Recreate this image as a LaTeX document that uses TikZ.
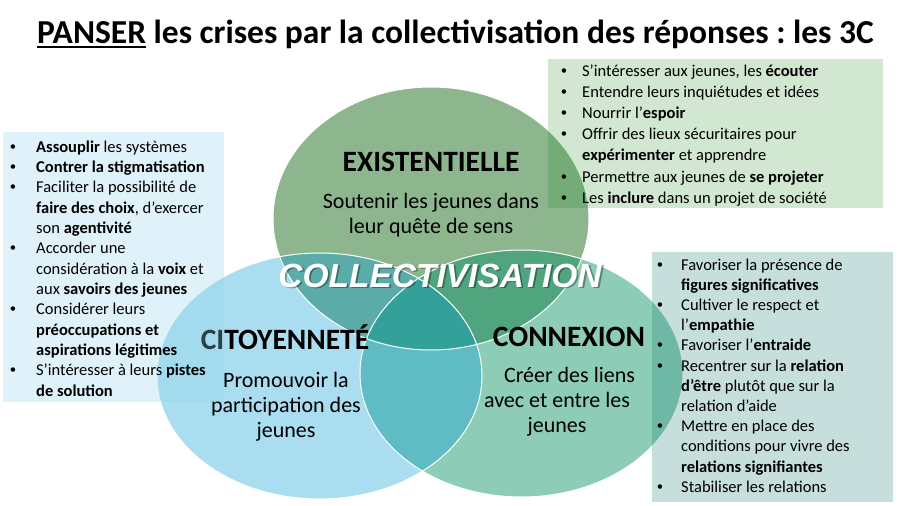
\documentclass[tikz,border=0pt]{standalone}
\usepackage{fontspec}
\setmainfont{Carlito}
\newfontfamily\arialfont{Liberation Sans}
\frenchspacing

\definecolor{existfill}{HTML}{8DB68F}
\definecolor{citofill}{HTML}{A9DDEF}
\definecolor{connexfill}{HTML}{8DCDB8}
\definecolor{exicito}{HTML}{5BABA9}
\definecolor{exiconnex}{HTML}{50A57F}
\definecolor{citoconnex}{HTML}{5FBBC4}
\definecolor{allthree}{HTML}{33A19A}
\definecolor{citobox}{RGB}{152,215,238}
\definecolor{existbox}{RGB}{5,127,11}
\definecolor{connexbox}{RGB}{0,110,100}

\def\existell{(431,218.5) ellipse [x radius=158pt, y radius=131.5pt]}
\def\citoell{(319.5,376) ellipse [x radius=162.5pt, y radius=123pt]}
\def\connexell{(521.5,373.5) ellipse [x radius=161.5pt, y radius=123.5pt]}

\def\citorect{(3,132) rectangle (224,402)}
\def\existrect{(548,59) rectangle (883,208)}
\def\connexrect{(652,252) rectangle (893,502)}

\newcommand{\bul}[1]{\makebox[#1][l]{\arialfont•}}
\newcommand{\cont}[1]{\hspace*{#1}}
\newcommand{\ulword}[1]{\vtop{\hbox{#1}\kern2.5pt\hrule height 2pt}}

\tikzset{
  listtext/.style={anchor=base west, align=left, inner sep=0pt},
  circtitle/.style={anchor=base, inner sep=0pt, font=\fontsize{29.5}{30}\selectfont\bfseries},
  circtext/.style={anchor=base, align=center, inner sep=0pt, font=\fontsize{22}{25}\selectfont}
}

\begin{document}
\begin{tikzpicture}[x=1pt, y=-1pt]
\useasboundingbox (0,0) rectangle (900,506);
\fill[white] (0,0) rectangle (900,506);

\node (title) [anchor=base, inner sep=0pt, font=\fontsize{33.5}{36}\selectfont\bfseries] at (455.5,43)
  {\ulword{PANSER} les crises par la collectivisation des réponses : les 3C};

\begin{scope}
  \fill[existfill] \existell;
  \fill[citofill] \citoell;
  \fill[connexfill] \connexell;

  \begin{scope} % Shade the overlaps with the top one
    \clip \existell;
    \fill[exicito] \citoell;
    \fill[exiconnex] \connexell;
  \end{scope}

  \begin{scope} % Shade the two lower ones
    \clip \citoell;
    \fill[citoconnex] \connexell;
  \end{scope}

  \begin{scope} % Shade the middle of all three
    \clip \existell;
    \clip \citoell;
    \fill[allthree] \connexell;
  \end{scope}

  \draw[white, line width=1pt] \existell;
  \draw[white, line width=1pt] \citoell;
  \draw[white, line width=1pt] \connexell;
\end{scope}

% text of a multi-line node sits on its last line
\node (exist-title) [circtitle] at (431,171) {EXISTENTIELLE};
\node (exist-text) [circtext] at (431,233) {Soutenir les jeunes dans\\leur quête de sens};
\node (cito-title) [circtitle] at (285,349) {CITOYENNETÉ};
\node (cito-text) [circtext] at (286,437) {Promouvoir la\\participation des\\jeunes};
\node (connex-title) [circtitle] at (569,346) {CONNEXION};
\node (connex-text) [circtext] at (557,432) {\hspace*{25pt}Créer des liens\\avec et entre les\\jeunes};

\node (collect-shadow) [anchor=base, inner sep=0pt, text=black, text opacity=0.35,
  font=\arialfont\bfseries\itshape\fontsize{33.5}{36}\selectfont] at (441.8,288.8) {COLLECTIVISATION};
\node (collect) [anchor=base, inner sep=0pt, text=white,
  font=\arialfont\bfseries\itshape\fontsize{33.5}{36}\selectfont] at (440,287) {COLLECTIVISATION};

% boxes
\fill[citobox, opacity=0.3] \citorect;
\fill[existbox, opacity=0.18] \existrect;
\fill[connexbox, opacity=0.22] \connexrect;

\node (cito-list) [listtext, font=\fontsize{16.5}{20.33}\selectfont] at (10,396) {%
\bul{26pt}\textbf{Assouplir} les systèmes\\
\bul{26pt}\textbf{Contrer la stigmatisation}\\
\bul{26pt}Faciliter la possibilité de\\
\cont{26pt}\textbf{faire des choix}, d’exercer\\
\cont{26pt}son \textbf{agentivité}\\
\bul{26pt}Accorder une\\
\cont{26pt}considération à la \textbf{voix} et\\
\cont{26pt}aux \textbf{savoirs des jeunes}\\
\bul{26pt}Considérer leurs\\
\cont{26pt}\textbf{préoccupations et}\\
\cont{26pt}\textbf{aspirations légitimes}\\
\bul{26pt}S’intéresser à leurs \textbf{pistes}\\
\cont{26pt}\textbf{de solution}};

\node (exist-list) [listtext, font=\fontsize{16.5}{21.2}\selectfont] at (561,203.2) {%
\bul{21pt}S’intéresser aux jeunes, les \textbf{écouter}\\
\bul{21pt}Entendre leurs inquiétudes et idées\\
\bul{21pt}Nourrir l’\textbf{espoir}\\
\bul{21pt}Offrir des lieux sécuritaires pour\\
\cont{21pt}\textbf{expérimenter} et apprendre\\
\bul{21pt}Permettre aux jeunes de \textbf{se projeter}\\
\bul{21pt}Les \textbf{inclure} dans un projet de société};

\node (connex-list) [listtext, font=\fontsize{16.5}{20.2}\selectfont] at (657,492.2) {%
\bul{24pt}Favoriser la présence de\\
\cont{24pt}\textbf{figures significatives}\\
\bul{24pt}Cultiver le respect et\\
\cont{24pt}l’\textbf{empathie}\\
\bul{24pt}Favoriser l’\textbf{entraide}\\
\bul{24pt}Recentrer sur la \textbf{relation}\\
\cont{24pt}\textbf{d’être} plutôt que sur la\\
\cont{24pt}relation d’aide\\
\bul{24pt}Mettre en place des\\
\cont{24pt}conditions pour vivre des\\
\cont{24pt}\textbf{relations signifiantes}\\
\bul{24pt}Stabiliser les relations};

\end{tikzpicture}
\end{document}
